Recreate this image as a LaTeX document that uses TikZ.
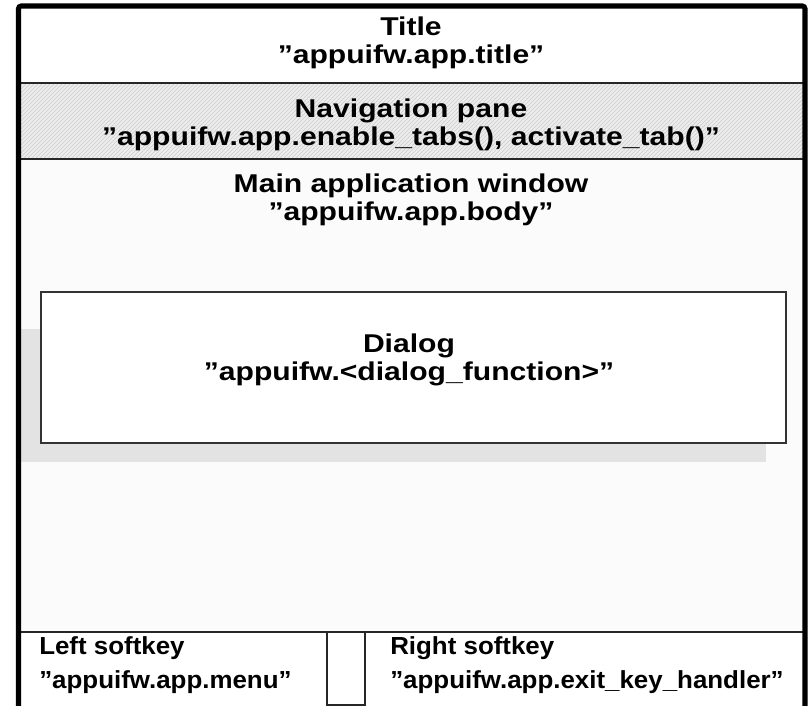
\documentclass[tikz,border=0pt]{standalone}
\usepackage{fontspec}
\setmainfont{Liberation Sans}[FakeStretch=1.17]
\newfontfamily\keyfont{Liberation Sans}[FakeStretch=1.05]
\usetikzlibrary{patterns}

\begin{document}
\begin{tikzpicture}
  [x = 0.75pt, y = -0.75pt, font = \bfseries\fontsize{19.3}{21}\selectfont,
   sep/.style = {draw = black!85, line width = 0.8pt},
   txt/.style = {align = center, inner sep = 0pt},
   keytxt/.style = {align = left, inner sep = 0pt, anchor = west,
                    font = \keyfont\bfseries\fontsize{18.5}{26}\selectfont}]
  \useasboundingbox (0,0) rectangle (808,706);
  % backgrounds of the panes
  \fill[white] (18,6) rectangle (805,83);
  \fill[gray!14] (18,83) rectangle (805,159);
  \fill[pattern = north east lines, pattern color = gray!40] (18,83) rectangle (805,159);
  \fill[gray!3] (18,159) rectangle (805,632);
  \fill[white] (18,632) rectangle (805,706);
  % dialog and its shadow
  \fill[gray!22] (21,329) rectangle (766,462);
  \draw[fill = white, draw = gray!40!black, line width = 1.1pt] (41,292) rectangle (786,443);
  % separators
  \draw[sep] (18,83) -- (805,83);
  \draw[sep] (18,159) -- (805,159);
  \draw[sep] (18,632) -- (805,632);
  \draw[sep] (327,632) rectangle (365,705);
  % outer frame, open at the bottom
  \draw[line width = 3.8pt, rounded corners = 2pt] (18.5,706) -- (18.5,6) -- (805,6) -- (805,706);
  % labels
  \node[txt] (title) at (411,43) {Title\\”appuifw.app.title”};
  \node[txt] (navpane) at (411,125) {Navigation pane\\”appuifw.app.enable\_tabs(), activate\_tab()”};
  \node[txt] (mainwin) at (411,200) {Main application window\\”appuifw.app.body”};
  \node[txt] (dialog) at (409,360) {Dialog\\”appuifw.<dialog\_function>”};
  \node[keytxt] (leftkey) at (39,665) {Left softkey\\”appuifw.app.menu”};
  \node[keytxt] (rightkey) at (390,665) {Right softkey\\”appuifw.app.exit\_key\_handler”};
\end{tikzpicture}
\end{document}
